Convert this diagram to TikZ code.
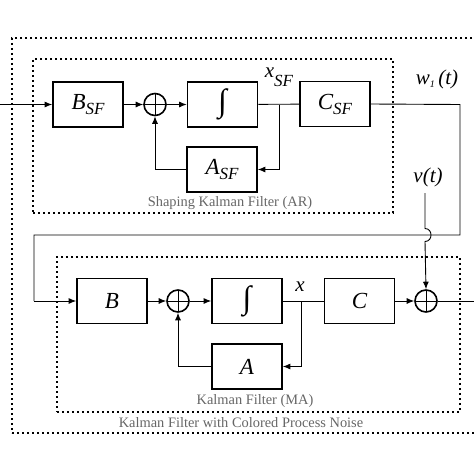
\documentclass[tikz,border=0pt]{standalone}
\usepackage{fontspec}
\setmainfont{Liberation Serif}
\usetikzlibrary{arrows.meta}
\begin{document}
\begin{tikzpicture}[x=1pt,y=-1pt,
  blk/.style={draw, line width=1.7pt, minimum width=70pt, minimum height=45pt, inner sep=0pt, font=\fontsize{23}{25}\selectfont\itshape},
  sumnode/.style={circle, draw, line width=1.6pt, minimum size=22pt, inner sep=0pt,
    path picture={\draw[line width=0.9pt] (path picture bounding box.north) -- (path picture bounding box.south)
      (path picture bounding box.west) -- (path picture bounding box.east);}},
  dotbox/.style={draw, line width=2.4pt, dash pattern=on 2.4pt off 2.6pt, inner sep=0pt},
  wire/.style={line width=0.9pt},
  arr/.style={wire, -{Latex[length=7.5pt,width=6pt]}},
  ttl/.style={text=black!60, font=\fontsize{14.4}{16}\selectfont, inner sep=0pt},
  lbl/.style={font=\fontsize{21}{23}\selectfont\itshape, inner sep=0pt}
]
\useasboundingbox (0,0) rectangle (474,474);
\clip (0,0) rectangle (474,474);
% dotted frames
\node[dotbox, minimum width=480pt, minimum height=395pt] (outer) at (252,235.5) {};
\node[dotbox, minimum width=360pt, minimum height=154pt] (ar) at (213,136) {};
\node[dotbox, minimum width=403pt, minimum height=155pt] (ma) at (258.5,334.5) {};
% titles
\node[ttl] (tar) at (230,203) {Shaping Kalman Filter (AR)};
\node[ttl] (tma) at (255,401) {Kalman Filter (MA)};
\node[ttl] (tout) at (241,423) {Kalman Filter with Colored Process Noise};
% upper blocks
\node[blk] (bsf) at (88,104.5) {B\raisebox{-5pt}{\fontsize{17}{18}\selectfont SF}};
\node[sumnode] (s1) at (155,104.5) {};
\node[blk] (int1) at (222.5,104.5) {\fontsize{32}{34}\selectfont\upshape ∫};
\node[blk] (asf) at (222,169.5) {A\raisebox{-5pt}{\fontsize{17}{18}\selectfont SF}};
\node[blk] (csf) at (335,104) {C\raisebox{-5pt}{\fontsize{17}{18}\selectfont SF}};
% lower blocks
\node[blk] (b) at (112,301) {B};
\node[sumnode] (s2) at (178,301) {};
\node[blk] (int2) at (247,301) {\fontsize{32}{34}\selectfont\upshape ∫};
\node[blk] (a) at (247,366.5) {A};
\node[blk] (c) at (359.5,301) {C};
\node[sumnode] (s3) at (426,301) {};
% labels
\node[lbl] (xsf) at (279,77) {x\raisebox{-9pt}{\fontsize{17}{18}\selectfont SF}};
\node[lbl] (xl) at (300,287) {x};
\node[lbl] (w1) at (437,79) {w\raisebox{-3pt}{\fontsize{10}{11}\selectfont 1}\,(t)};
\node[lbl] (vt) at (428,177) {v(t)};
% coordinates
\coordinate (in) at (0,104.5);
\coordinate (tap1) at (279,104.5);
\coordinate (r1) at (460,104.5);
\coordinate (r2) at (460,235);
\coordinate (l2) at (34,235);
\coordinate (l3) at (34,301);
\coordinate (tap2) at (301,301);
\coordinate (vtop) at (425,193);
\coordinate (h1) at (425,228.5);
\coordinate (h2) at (425,241.5);
\coordinate (out) at (474,301);
% upper connections
\draw[arr] (in) -- (bsf.west);
\draw[arr] (bsf) -- (s1);
\draw[arr] (s1) -- (int1);
\draw[wire] (int1) -- (csf);
\draw[arr] (tap1) |- (asf.east);
\draw[arr] (asf.west) -| (s1.south);
\draw[wire] (csf.east) -- (r1) -- (r2) -- (l2) -- (l3);
\draw[arr] (l3) -- (b.west);
% lower connections
\draw[arr] (b) -- (s2);
\draw[arr] (s2) -- (int2);
\draw[wire] (int2) -- (c);
\draw[arr] (tap2) |- (a.east);
\draw[arr] (a.west) -| (s2.south);
\draw[arr] (c) -- (s3);
\draw[wire] (s3.east) -- (out);
\draw[arr] (vtop) -- (h1) .. controls (433,228.5) and (433,241.5) .. (h2) -- (s3.north);
\end{tikzpicture}
\end{document}
